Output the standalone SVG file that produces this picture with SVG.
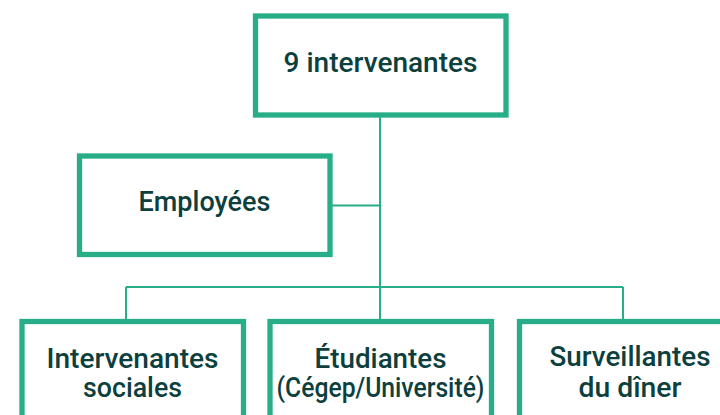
<svg xmlns="http://www.w3.org/2000/svg" width="720" height="415" viewBox="0 0 720 415">
<style>
.box{fill:#fff;stroke:#27ae88;stroke-width:5.3}
.con{fill:none;stroke:#27ae88;stroke-width:2}
.t{font-family:Roboto,"Open Sans",sans-serif;font-weight:500;font-size:27px;fill:#0c3f3d;text-anchor:middle}
</style>
<rect width="720" height="415" fill="#fff"/>
<g id="connectors">
<path class="con" d="M380 117V287M332 205.5H380M126 287H623M126 287V320M380 287V320M623 287V320"/>
</g>
<g id="top">
<rect class="box" x="255.5" y="16" width="250.5" height="99"/>
<text class="t" x="380.5" y="72" textLength="194" lengthAdjust="spacingAndGlyphs">9 intervenantes</text>
</g>
<g id="employees">
<rect class="box" x="79.5" y="156" width="250.5" height="98.5"/>
<text class="t" x="204.5" y="211" textLength="132" lengthAdjust="spacingAndGlyphs">Employées</text>
</g>
<g id="sociales">
<rect class="box" x="22" y="321.5" width="221.5" height="110"/>
<text class="t" x="132.5" y="368" textLength="172" lengthAdjust="spacingAndGlyphs">Intervenantes</text>
<text class="t" x="132.5" y="397" textLength="99" lengthAdjust="spacingAndGlyphs">sociales</text>
</g>
<g id="etudiantes">
<rect class="box" x="270" y="321.5" width="221.5" height="110"/>
<text class="t" x="380.5" y="368" textLength="132" lengthAdjust="spacingAndGlyphs">Étudiantes</text>
<text class="t" x="380.5" y="397" textLength="208" lengthAdjust="spacingAndGlyphs">(Cégep/Université)</text>
</g>
<g id="surveillantes">
<rect class="box" x="519.5" y="321.5" width="221.5" height="110"/>
<text class="t" x="630" y="366" textLength="161" lengthAdjust="spacingAndGlyphs">Surveillantes</text>
<text class="t" x="630" y="397" textLength="103" lengthAdjust="spacingAndGlyphs">du dîner</text>
</g>
</svg>
